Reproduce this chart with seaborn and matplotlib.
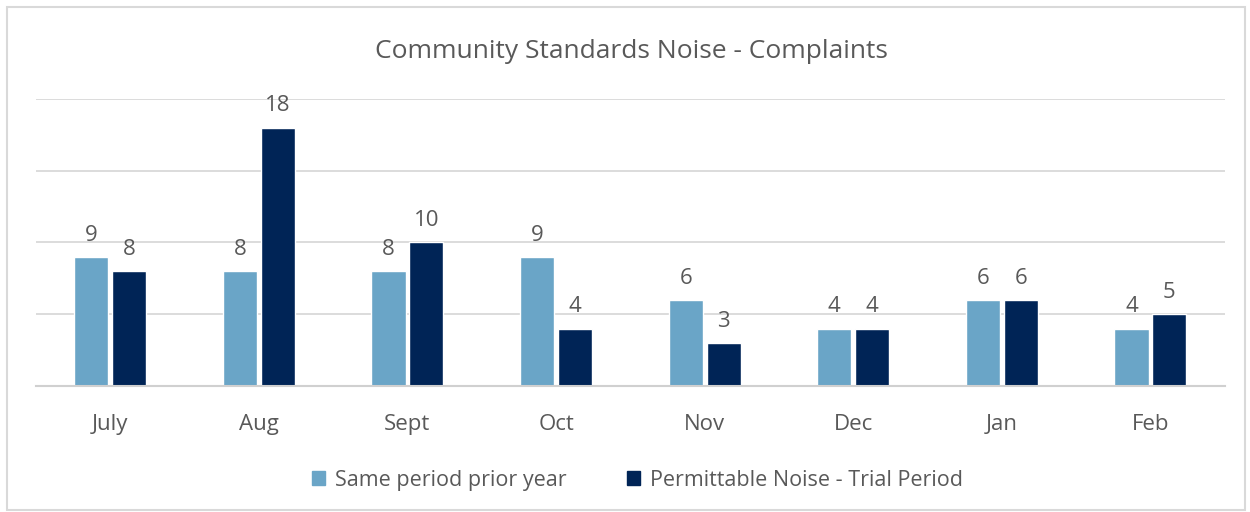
import matplotlib
matplotlib.use("Agg")
import matplotlib.pyplot as plt
import matplotlib.patches as mpatches
import pandas as pd
import seaborn as sns

# Chart data
months = ["July", "Aug", "Sept", "Oct", "Nov", "Dec", "Jan", "Feb"]
prior_year = [9, 8, 8, 9, 6, 4, 6, 4]
trial_period = [8, 18, 10, 4, 3, 4, 6, 5]
series_names = ["Same period prior year", "Permittable Noise - Trial Period"]
colors = ["#6AA5C7", "#002456"]

text_color = "#595959"
grid_color = "#D9D9D9"

df = pd.DataFrame({
    "Month": months * 2,
    "Complaints": prior_year + trial_period,
    "Series": [series_names[0]] * len(months) + [series_names[1]] * len(months),
})

sns.set_theme(style="white")
plt.rcParams["font.family"] = ["Open Sans", "DejaVu Sans"]

fig = plt.figure(figsize=(12.5, 5.12), dpi=100)
ax = fig.add_axes([0.0288, 0.246, 0.951, 0.561])

sns.barplot(
    data=df, x="Month", y="Complaints", hue="Series",
    palette=colors, width=0.51, gap=0.1, order=months,
    hue_order=series_names, saturation=1, ax=ax, legend=False,
)

for container in ax.containers:
    ax.bar_label(container, padding=8, fontsize=16, color=text_color)

ax.set_ylim(0, 20)
ax.set_xlim(-0.5, len(months) - 0.5)
ax.set_yticks([0, 5, 10, 15, 20])
ax.yaxis.grid(True, color=grid_color, linewidth=1.3)
ax.set_axisbelow(True)
ax.tick_params(axis="y", left=False, labelleft=False)
ax.tick_params(axis="x", bottom=False, labelsize=16, labelcolor=text_color, pad=14)
ax.set_xlabel("")
ax.set_ylabel("")
for side in ["top", "right", "left"]:
    ax.spines[side].set_visible(False)
ax.spines["bottom"].set_color("#D0D0D0")
ax.spines["bottom"].set_linewidth(1.5)

fig.text(0.505, 0.900, "Community Standards Noise - Complaints",
         ha="center", va="center", fontsize=19, color=text_color)

handles = [mpatches.Patch(color=c, label=n) for c, n in zip(colors, series_names)]
fig.legend(handles=handles, loc="center", bbox_to_anchor=(0.51, 0.062), ncol=2,
           frameon=False, fontsize=15.5, labelcolor=text_color,
           handlelength=0.6, handleheight=0.6, handletextpad=0.45, columnspacing=2.8)

# light border around the chart
fig.patches.append(mpatches.Rectangle(
    (0.0056, 0.004), 0.99, 0.982, transform=fig.transFigure,
    fill=False, edgecolor="#D9D9D9", linewidth=1.5))

fig.savefig("out.png", dpi=100)
